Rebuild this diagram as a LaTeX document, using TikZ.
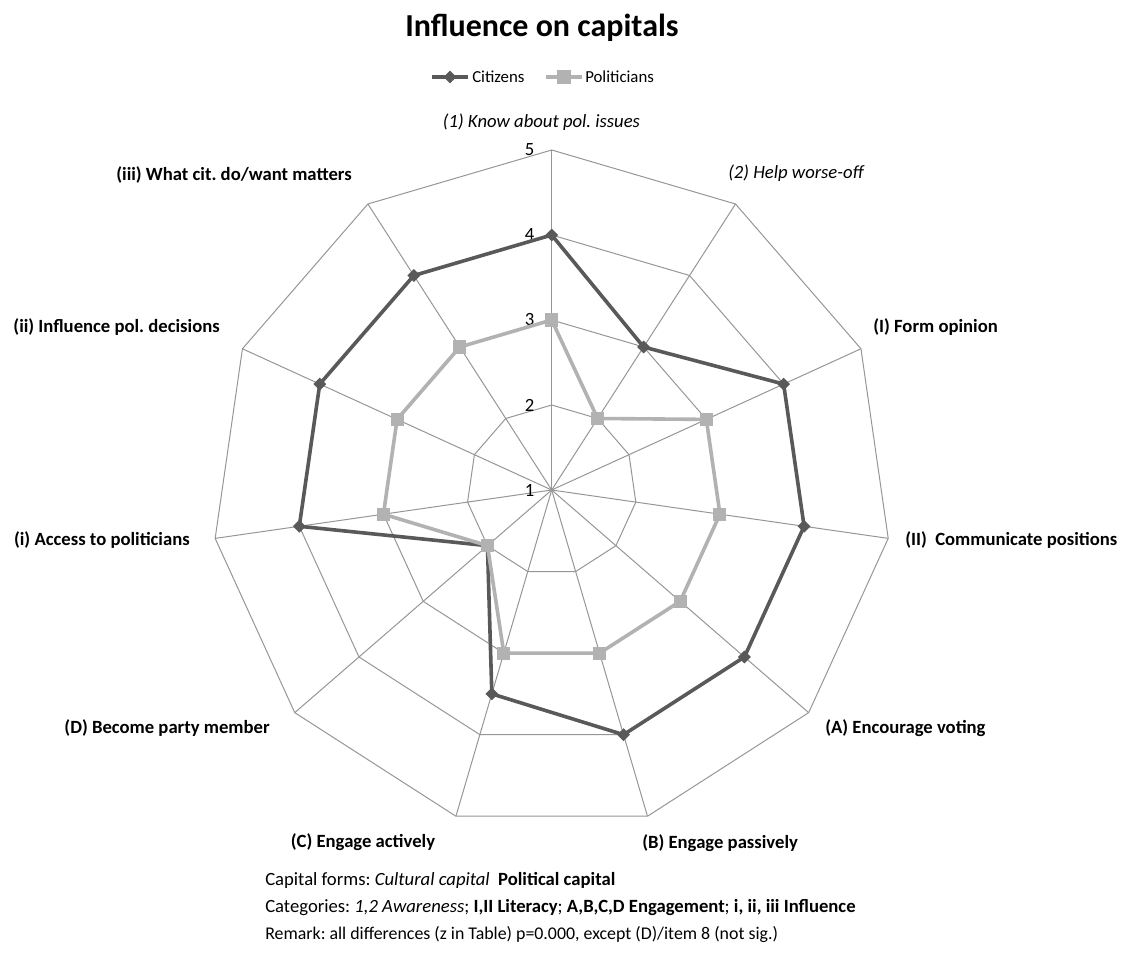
\documentclass[tikz,border=0pt]{standalone}
\usepackage{fontspec}
\setmainfont{Carlito}
\usetikzlibrary{shapes.geometric}
\frenchspacing

\definecolor{citgray}{HTML}{595959}
\definecolor{polgray}{HTML}{B2B2B2}
\definecolor{gridgray}{HTML}{969696}

\begin{document}
\begin{tikzpicture}[
    x=0.75pt, y=0.75pt,
    gridln/.style={draw=gridgray, line width=0.75pt},
    serie/.style={draw=#1, line width=2.7pt, line join=round},
    citmk/.style={diamond, fill=citgray, inner sep=0pt, minimum size=9.8pt},
    polmk/.style={rectangle, fill=polgray, inner sep=0pt, minimum size=9.8pt},
    axlbl/.style={font=\fontsize{14}{16}\selectfont\bfseries, inner sep=0pt},
    awlbl/.style={font=\fontsize{14}{16}\selectfont\itshape, inner sep=0pt},
    scalelbl/.style={font=\fontsize{14}{16}\selectfont, inner sep=0pt, anchor=east}
  ]
  \useasboundingbox (-551.7,-482) rectangle (572.3,490);

  % web of the chart
  \foreach \lv in {2,...,5}
    \draw[gridln] (90:{(\lv-1)*85}) \foreach \k in {1,...,10} { -- ({90-\k*360/11}:{(\lv-1)*85}) } -- cycle;
  \foreach \k in {0,...,10}
    \draw[gridln] (0,0) -- ({90-\k*360/11}:340);
  \foreach \lv in {1,...,5}
    \node[scalelbl] (sc\lv) at (-17,{(\lv-1)*85}) {\lv};

  % data points
  \foreach \v [count=\k from 0] in {4,3,4,4,4,4,3.5,2,4,4,4}
    \coordinate (cit\k) at ({90-\k*360/11}:{(\v-1)*85});
  \foreach \v [count=\k from 0] in {3,2,3,3,3,3,3,2,3,3,3}
    \coordinate (pol\k) at ({90-\k*360/11}:{(\v-1)*85});

  \draw[serie=citgray] (cit0) -- (cit1) -- (cit2) -- (cit3) -- (cit4) -- (cit5)
    -- (cit6) -- (cit7) -- (cit8) -- (cit9) -- (cit10) -- cycle;
  \foreach \k in {0,...,10}
    \node[citmk] (cm\k) at (cit\k) {};
  \draw[serie=polgray] (pol0) -- (pol1) -- (pol2) -- (pol3) -- (pol4) -- (pol5)
    -- (pol6) -- (pol7) -- (pol8) -- (pol9) -- (pol10) -- cycle;
  \foreach \k in {0,...,10}
    \node[polmk] (pm\k) at (pol\k) {};

  % axis labels
  \node[awlbl] (ax1) at (-10.2,368) {(1) Know about pol. issues};
  \node[awlbl, anchor=west] (ax2) at (176.3,317) {(2) Help worse-off};
  \node[axlbl, anchor=west] (ax3) at (321.3,163) {(I) Form opinion};
  \node[axlbl, anchor=west] (ax4) at (353.3,-50) {(II)~~Communicate positions};
  \node[axlbl, anchor=west] (ax5) at (273.3,-238) {(A) Encourage voting};
  \node[axlbl, anchor=west] (ax6) at (90.3,-353) {(B) Engage passively};
  \node[axlbl] (ax7) at (-188.7,-352) {(C) Engage actively};
  \node[axlbl, anchor=east] (ax8) at (-281.7,-238) {(D) Become party member};
  \node[axlbl, anchor=east] (ax9) at (-361.7,-50) {(i) Access to politicians};
  \node[axlbl, anchor=east] (ax10) at (-331.7,163) {(ii) Influence pol. decisions};
  \node[axlbl, anchor=east] (ax11) at (-199.7,315) {(iii) What cit. do/want matters};

  % title and legend
  \node[font=\fontsize{24}{28}\selectfont\bfseries, inner sep=0pt] (title) at (-9.7,462) {Influence on capitals};
  \coordinate (lgc0) at (-119.7,413);
  \coordinate (lgc1) at (-83.7,413);
  \draw[serie=citgray] (lgc0) -- (lgc1);
  \node[citmk] (lgcm) at (-101.7,413) {};
  \node[font=\fontsize{12.6}{15}\selectfont, inner sep=0pt, anchor=west] (lgct) at (-79.7,413) {Citizens};
  \coordinate (lgp0) at (-5.7,413);
  \coordinate (lgp1) at (30.3,413);
  \draw[serie=polgray] (lgp0) -- (lgp1);
  \node[polmk] (lgpm) at (12.3,413) {};
  \node[font=\fontsize{12.6}{15}\selectfont, inner sep=0pt, anchor=west] (lgpt) at (33.3,413) {Politicians};

  % notes under the chart
  \node[font=\fontsize{14}{20.25}\selectfont, inner sep=0pt, anchor=west, align=left] (notes) at (-286.7,-417)
    {Capital forms: \textit{Cultural capital}\ \ \textbf{Political capital}\\
     Categories: \textit{1,2 Awareness}; \textbf{I,II Literacy}; \textbf{A,B,C,D Engagement}; \textbf{i, ii, iii Influence}\\
     {\fontsize{13.4}{20.25}\selectfont Remark: all differences (z in Table) p=0.000, except (D)/item 8 (not sig.)}};
\end{tikzpicture}
\end{document}
